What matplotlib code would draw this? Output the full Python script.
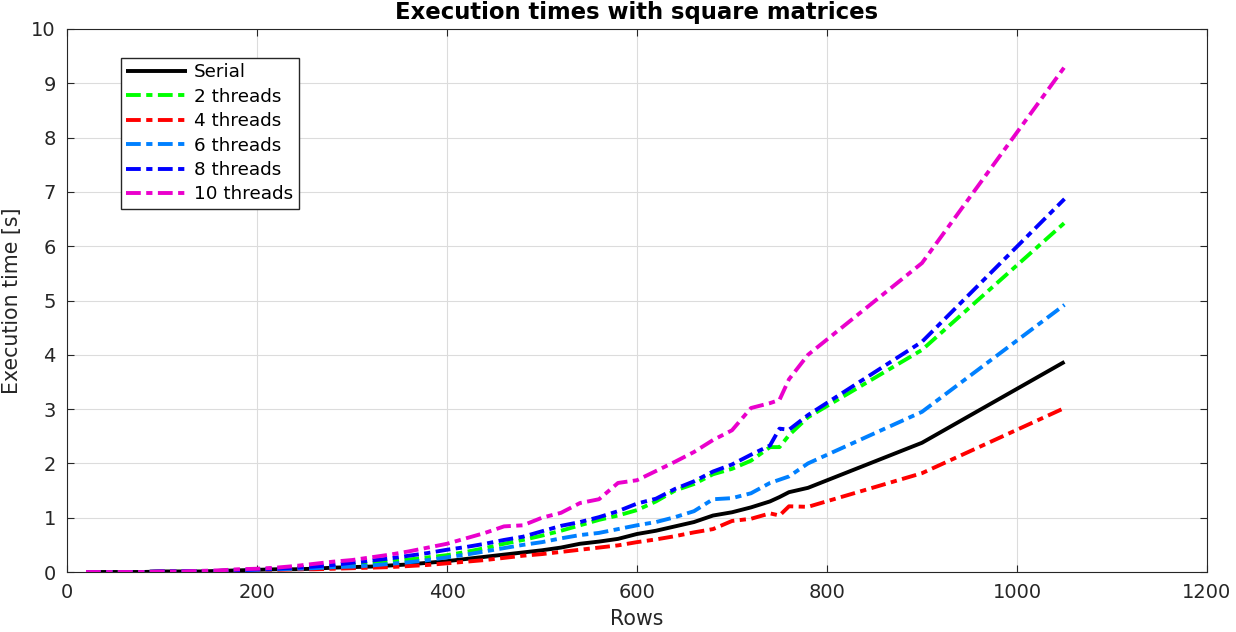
import matplotlib
matplotlib.use("Agg")
import matplotlib.pyplot as plt

rows = [20, 40, 60, 80, 100, 120, 140, 160, 180, 200,
        220, 240, 260, 280, 300, 320, 340, 360, 380, 400,
        420, 440, 460, 480, 500, 520, 540, 560, 580, 600,
        620, 640, 660, 680, 700, 720, 740, 750, 760, 780, 900, 1050]

serial = [0, 0, 0, 0, 0.01, 0.01, 0.01, 0.02, 0.03, 0.04,
          0.05, 0.05, 0.06, 0.08, 0.09, 0.10, 0.12, 0.14, 0.17, 0.20,
          0.24, 0.28, 0.32, 0.36, 0.40, 0.45, 0.52, 0.56, 0.61, 0.70,
          0.76, 0.84, 0.92, 1.04, 1.10, 1.19, 1.30, 1.38, 1.47, 1.55, 2.38, 3.87]
t2 = [0, 0, 0, 0, 0.01, 0.01, 0.01, 0.02, 0.03, 0.04,
      0.05, 0.06, 0.08, 0.10, 0.13, 0.16, 0.19, 0.23, 0.27, 0.31,
      0.37, 0.44, 0.52, 0.59, 0.67, 0.76, 0.86, 0.96, 1.04, 1.14,
      1.30, 1.50, 1.62, 1.80, 1.90, 2.05, 2.30, 2.30, 2.52, 2.85, 4.09, 6.43]
t4 = [0, 0, 0, 0, 0.01, 0.01, 0.01, 0.02, 0.02, 0.03,
      0.04, 0.05, 0.05, 0.06, 0.07, 0.08, 0.09, 0.11, 0.13, 0.16,
      0.19, 0.22, 0.26, 0.30, 0.33, 0.37, 0.41, 0.45, 0.49, 0.55,
      0.60, 0.66, 0.73, 0.79, 0.94, 0.98, 1.08, 1.04, 1.21, 1.20, 1.82, 3.02]
t6 = [0, 0, 0, 0, 0.01, 0.01, 0.02, 0.02, 0.03, 0.04,
      0.05, 0.06, 0.07, 0.09, 0.10, 0.12, 0.15, 0.18, 0.22, 0.27,
      0.32, 0.38, 0.44, 0.50, 0.55, 0.62, 0.68, 0.72, 0.79, 0.86,
      0.92, 1.01, 1.12, 1.34, 1.36, 1.45, 1.64, 1.70, 1.76, 2.00, 2.95, 4.92]
t8 = [0, 0, 0, 0, 0.01, 0.01, 0.01, 0.02, 0.03, 0.05,
      0.06, 0.08, 0.10, 0.13, 0.17, 0.21, 0.25, 0.30, 0.35, 0.41,
      0.46, 0.52, 0.59, 0.65, 0.75, 0.85, 0.92, 1.01, 1.12, 1.26,
      1.35, 1.53, 1.67, 1.85, 1.98, 2.16, 2.33, 2.64, 2.62, 2.89, 4.24, 6.87]
t10 = [0, 0, 0, 0, 0.01, 0.01, 0.02, 0.03, 0.05, 0.06,
       0.08, 0.11, 0.15, 0.19, 0.22, 0.27, 0.32, 0.38, 0.45, 0.52,
       0.62, 0.72, 0.84, 0.86, 1.00, 1.09, 1.27, 1.34, 1.64, 1.69,
       1.86, 2.03, 2.21, 2.43, 2.61, 3.02, 3.11, 3.17, 3.55, 4.00, 5.69, 9.30]

labels = ["Serial", "2 threads", "4 threads", "6 threads", "8 threads", "10 threads"]
colors = ["#000000", "#00ff00", "#ff0000", "#0080ff", "#0000ff", "#ea00cc"]
series = [serial, t2, t4, t6, t8, t10]

xticks = [0, 200, 400, 600, 800, 1000, 1200]
yticks = list(range(0, 11))

fig = plt.figure(figsize=(12.36, 6.32), dpi=100)
ax = fig.add_axes([67 / 1236, 1 - 572 / 632, 1140 / 1236, 543 / 632])

dashdot = (0, (3.8, 1.4, 1.6, 1.4))
for i, (lab, col, ys) in enumerate(zip(labels, colors, series)):
    ls = "-" if i == 0 else dashdot
    ax.plot(rows, ys, color=col, lw=2.8, linestyle=ls, label=lab, zorder=3 + i,
            solid_capstyle="butt", dash_capstyle="butt")

ax.set_xlim(0, 1200)
ax.set_ylim(0, 10)
ax.set_xticks(xticks)
ax.set_yticks(yticks)
ax.grid(True, color="#dcdcdc", lw=0.8)
ax.set_axisbelow(True)
ax.tick_params(direction="in", length=5, width=0.8, colors="#262626",
               labelsize=14, top=True, right=True, labeltop=False, labelright=False, pad=8)
for sp in ax.spines.values():
    sp.set_color("#262626")
    sp.set_linewidth(0.8)

ax.set_title("Execution times with square matrices", fontsize=16.4, fontweight="bold", pad=7)
ax.set_xlabel("Rows", fontsize=14.8, color="#262626", labelpad=5)
ax.set_ylabel("Execution time [s]", fontsize=14.8, color="#262626", labelpad=7)

leg = ax.legend(loc="upper left", bbox_to_anchor=(0.047, 0.947), borderaxespad=0,
                fontsize=13.2, handlelength=3.3, handletextpad=0.4, labelspacing=0.35,
                borderpad=0.3, fancybox=False, framealpha=1, edgecolor="#262626")
leg.get_frame().set_linewidth(1.0)

fig.savefig("out.png", dpi=100)
